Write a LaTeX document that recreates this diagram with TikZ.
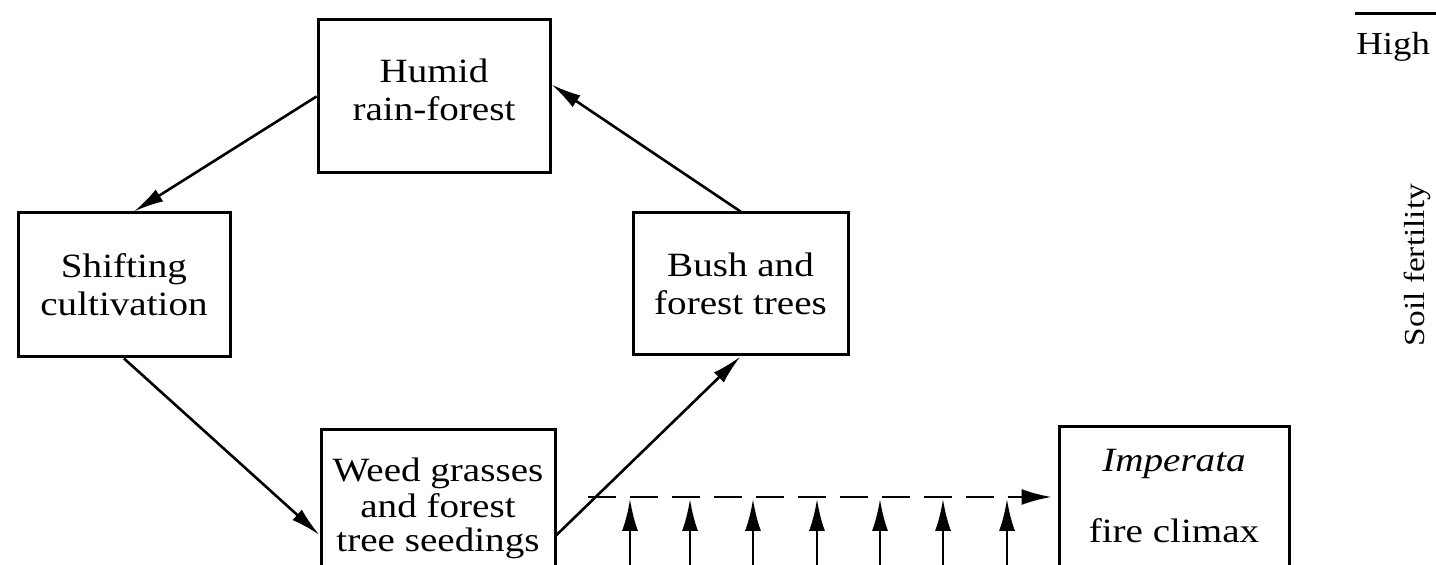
\documentclass[tikz,border=0pt]{standalone}
\usepackage{fontspec}
\setmainfont{Liberation Serif}[FakeStretch=1.15]
\usetikzlibrary{arrows.meta,calc}
\tikzset{
  box/.style={draw, line width=1.5pt, rectangle, inner sep=0pt, align=center,
    font=\fontsize{17}{19}\selectfont},
  lbl/.style={inner sep=0pt, align=center, font=\fontsize{17}{18}\selectfont},
  conn/.style={line width=1.3pt, -{Latex[length=15pt,width=7pt]}},
  dconn/.style={line width=1.2pt, dash pattern=on 14pt off 7pt, -{Latex[length=15pt,width=8pt]}},
}
\begin{document}
\begin{tikzpicture}[x=0.5pt,y=-0.5pt]
\useasboundingbox (0,0) rectangle (1436,565);
\clip (0,0) rectangle (1436,565);
\fill[white] (0,0) rectangle (1436,565);
% boxes
\node[box, minimum width=116pt, minimum height=76.5pt, text depth=7pt] (humid) at (434,96.5) {Humid\\rain-forest};
\node[box, minimum width=106pt, minimum height=72pt] (shift) at (124,285) {Shifting\\cultivation};
\node[box, minimum width=107.5pt, minimum height=71pt] (bush) at (740.5,284) {Bush and\\forest trees};
\node[box, minimum width=117pt, minimum height=105pt] (weed) at (438,535) {};
\node[box, minimum width=115pt, minimum height=106.5pt] (imp) at (1174,533.5) {};
% box texts
\node[lbl, anchor=base] (weedt1) at (438,482) {Weed grasses};
\node[lbl, anchor=base] (weedt2) at (438,518) {and forest};
\node[lbl, anchor=base] (weedt3) at (438,552) {tree seedings};
\node[lbl, anchor=base] (impt1) at (1174,472) {\itshape Imperata};
\node[lbl, anchor=base] (impt2) at (1174,543) {fire climax};
% cycle connectors
\draw[conn] (humid.west) -- ([xshift=5pt]shift.north);
\draw[conn] (shift.south) -- (weed.west);
\draw[conn] (weed.east) -- (bush.south);
\draw[conn] (bush.north) -- ([yshift=6pt]humid.east);
% dashed connector
\coordinate (dstart) at (588,497);
\draw[dconn] (dstart) -- ([xshift=-3pt]imp.west |- dstart);
% vertical arrows
\foreach \x [count=\i] in {630,690,753,817,880,943,1007}{
  \coordinate (vb\i) at (\x,600);
  \coordinate (vt\i) at (\x,499);
  \draw[conn, -{Latex[length=16pt,width=8pt]}] (vb\i) -- (vt\i);
}
% soil fertility axis
\coordinate (axl) at (1355,14);
\coordinate (axr) at (1436,14);
\draw[line width=1.5pt] (axl) -- (axr);
\node[lbl, anchor=base west, font=\fontsize{16}{18}\selectfont] (high) at (1356,55) {High};
\node[lbl, rotate=90, font=\fontsize{14.5}{16}\selectfont] (soil) at (1417,265) {Soil fertility};
\end{tikzpicture}
\end{document}
